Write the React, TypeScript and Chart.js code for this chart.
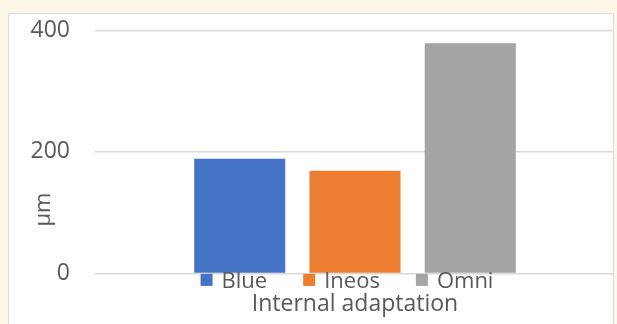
import React, { useEffect, useRef } from "react";
import { Chart, registerables } from "chart.js";

Chart.register(...registerables);

const categories = ["Internal adaptation"];
const seriesNames = ["Blue", "Ineos", "Omni"];
const blueValues = [189];
const ineosValues = [169];
const omniValues = [379];
const yTickValues = [0, 200, 400];
const seriesColors = ["#4472C4", "#ED7D31", "#A5A5A5"];
const yAxisTitle = "μm";
const xAxisTitle = "Internal adaptation";

const FONT = "'Open Sans', 'Noto Sans', sans-serif";
const TEXT = "#595959";

const bottomLegend = {
  id: "bottomLegend",
  afterDraw(chart: any) {
    const { ctx, chartArea } = chart;
    ctx.save();
    ctx.font = `22px ${FONT}`;
    const box = 12;
    const gap = 9;
    const spacing = 36;
    const items = chart.data.datasets.map((ds: any) => ({
      text: ds.label as string,
      color: ds.backgroundColor as string,
      w: ctx.measureText(ds.label).width,
    }));
    const total =
      items.reduce((s: number, it: any) => s + box + gap + it.w, 0) +
      spacing * (items.length - 1);
    let x = (chartArea.left + chartArea.right) / 2 - 8 - total / 2;
    const y = chartArea.bottom + 6.5;
    ctx.textBaseline = "middle";
    ctx.textAlign = "left";
    for (const it of items) {
      ctx.fillStyle = it.color;
      ctx.fillRect(x, y - box / 2, box, box);
      x += box + gap;
      ctx.fillStyle = TEXT;
      ctx.fillText(it.text, x, y + 1.5);
      x += it.w + spacing;
    }
    ctx.restore();
  },
};

const yTitlePlugin = {
  id: "yTitlePlugin",
  afterDraw(chart: any) {
    const { ctx, chartArea } = chart;
    ctx.save();
    ctx.font = `22px ${FONT}`;
    ctx.fillStyle = TEXT;
    ctx.textAlign = "center";
    ctx.textBaseline = "middle";
    const x = chartArea.left - 51;
    const y = chartArea.top + 0.737 * (chartArea.bottom - chartArea.top);
    ctx.translate(x, y);
    ctx.rotate(-Math.PI / 2);
    ctx.fillText(yAxisTitle, 0, 0);
    ctx.restore();
  },
};

export default function App() {
  const ref = useRef<HTMLCanvasElement | null>(null);

  useEffect(() => {
    if (!ref.current) return;
    const seriesValues = [blueValues, ineosValues, omniValues];
    const chart = new Chart(ref.current, {
      type: "bar",
      data: {
        labels: categories,
        datasets: seriesNames.map((name, i) => ({
          label: name,
          data: seriesValues[i],
          backgroundColor: seriesColors[i],
          borderWidth: 0,
          categoryPercentage: 0.665,
          barPercentage: 0.79,
        })),
      },
      options: {
        animation: false,
        responsive: false,
        maintainAspectRatio: false,
        layout: { padding: { top: 16.5, right: 0, bottom: 0, left: 0 } },
        plugins: {
          legend: { display: false },
          tooltip: { enabled: false },
          title: { display: false },
        },
        scales: {
          x: {
            grid: { display: false, drawTicks: false },
            border: { display: false },
            ticks: { display: false },
            title: {
              display: true,
              text: xAxisTitle,
              color: TEXT,
              font: { family: FONT, size: 23 },
              padding: { top: 17, bottom: 6 },
            },
          },
          y: {
            min: yTickValues[0],
            max: yTickValues[yTickValues.length - 1],
            afterBuildTicks: (scale: any) => {
              scale.ticks = yTickValues.map((v) => ({ value: v }));
            },
            afterFit: (scale: any) => {
              scale.width = 86;
              scale.paddingTop = 12;
              scale.paddingBottom = 12;
            },
            grid: { color: "#D9D9D9", lineWidth: 1.5, drawTicks: false },
            border: { display: false },
            ticks: {
              color: TEXT,
              font: { family: FONT, size: 23 },
              padding: 25,
            },
          },
        },
      },
      plugins: [bottomLegend, yTitlePlugin],
    } as any);
    return () => chart.destroy();
  }, []);

  return (
    <div
      style={{
        position: "fixed",
        left: 0,
        top: 0,
        width: 617,
        height: 324,
        background: "#FDF8E6",
        overflow: "hidden",
      }}
    >
      <div
        style={{
          position: "absolute",
          left: 8,
          top: 13,
          width: 604,
          height: 330,
          background: "#FFFFFF",
          border: "1px solid #DCDCDC",
          overflow: "hidden",
        }}
      >
        <canvas
          ref={ref}
          width={606}
          height={310}
          style={{ position: "absolute", left: 0, top: 0, width: 606, height: 310 }}
        />
      </div>
    </div>
  );
}
